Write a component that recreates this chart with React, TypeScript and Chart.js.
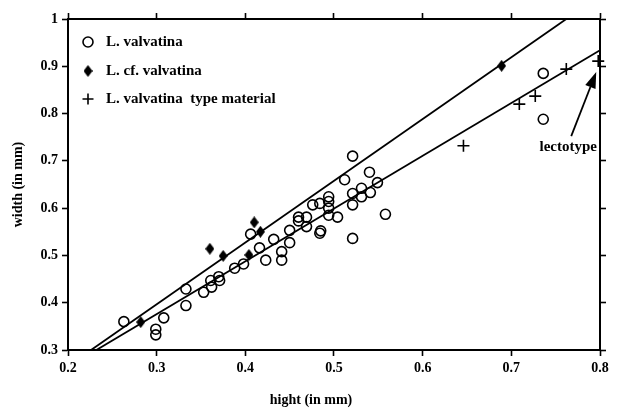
import React, { useEffect, useRef } from 'react';
import { Chart, registerables } from 'chart.js';

Chart.register(...registerables);

// ---- data (height = x, width = y, in mm) ----
const valvatinaHeight = [
  0.263, 0.308, 0.299, 0.299, 0.333, 0.333, 0.353, 0.361, 0.362, 0.370, 0.371, 0.388, 0.398,
  0.406, 0.416, 0.423, 0.432, 0.441, 0.441, 0.450, 0.450, 0.460, 0.460, 0.469, 0.469, 0.476,
  0.484, 0.484, 0.485, 0.494, 0.494, 0.494, 0.494, 0.504, 0.512, 0.521, 0.521, 0.521, 0.521,
  0.531, 0.531, 0.540, 0.541, 0.549, 0.558, 0.736, 0.736,
];
const valvatinaWidth = [
  0.360, 0.368, 0.344, 0.332, 0.429, 0.394, 0.422, 0.447, 0.433, 0.455, 0.447, 0.473, 0.482,
  0.545, 0.516, 0.490, 0.534, 0.508, 0.490, 0.553, 0.527, 0.581, 0.573, 0.581, 0.561, 0.607,
  0.610, 0.547, 0.552, 0.624, 0.614, 0.600, 0.585, 0.581, 0.660, 0.710, 0.631, 0.607, 0.536,
  0.642, 0.624, 0.676, 0.633, 0.654, 0.587, 0.885, 0.788,
];
const cfHeight = [0.282, 0.360, 0.375, 0.404, 0.410, 0.417, 0.689];
const cfWidth = [0.359, 0.514, 0.499, 0.501, 0.570, 0.550, 0.901];
const typeHeight = [0.646, 0.709, 0.727, 0.762, 0.798];
const typeWidth = [0.732, 0.820, 0.837, 0.894, 0.911];

const upperLineHeight = [0.226, 0.762];
const upperLineWidth = [0.3, 1.0];
const lowerLineHeight = [0.232, 0.8];
const lowerLineWidth = [0.3, 0.934];

const legendLabels = ['L. valvatina', 'L. cf. valvatina', 'L. valvatina  type material'];
const xTitle = 'hight (in mm)';
const yTitle = 'width (in mm)';
const lectotypeLabel = 'lectotype';

const X_MIN = 0.2, X_MAX = 0.8, Y_MIN = 0.3, Y_MAX = 1.0, STEP = 0.1;

const FONT_FAMILY = "'Liberation Serif', 'Times New Roman', serif";

const toPoints = (xs: number[], ys: number[]) => xs.map((x, i) => ({ x, y: ys[i] }));

function makeDiamond(): HTMLCanvasElement {
  const c = document.createElement('canvas');
  c.width = 9;
  c.height = 12;
  const ctx = c.getContext('2d')!;
  ctx.fillStyle = '#000';
  ctx.beginPath();
  ctx.moveTo(4.5, 0);
  ctx.lineTo(9, 6);
  ctx.lineTo(4.5, 12);
  ctx.lineTo(0, 6);
  ctx.closePath();
  ctx.fill();
  return c;
}

const fmt = (v: number) => String(Number(Number(v).toFixed(1)));

export default function App() {
  const ref = useRef<HTMLCanvasElement | null>(null);

  useEffect(() => {
    const canvas = ref.current;
    if (!canvas) return;
    const diamond = makeDiamond();

    const overlay = {
      id: 'overlay',
      afterDraw(chart: any) {
        const ctx = chart.ctx;
        const { left, top, right, bottom } = chart.chartArea;
        const xs = chart.scales.x;
        const ys = chart.scales.y;
        ctx.save();
        // legend
        const mx = left + 20;
        const tx = left + 38;
        const rows = [top + 23, top + 52, top + 80];
        ctx.strokeStyle = '#000';
        ctx.fillStyle = '#000';
        ctx.lineWidth = 1.6;
        ctx.beginPath();
        ctx.arc(mx, rows[0], 5, 0, Math.PI * 2);
        ctx.stroke();
        ctx.drawImage(diamond, mx - 4.5, rows[1] - 6);
        ctx.beginPath();
        ctx.moveTo(mx - 5.5, rows[2]);
        ctx.lineTo(mx + 5.5, rows[2]);
        ctx.moveTo(mx, rows[2] - 5.5);
        ctx.lineTo(mx, rows[2] + 5.5);
        ctx.stroke();
        ctx.font = `bold 15px ${FONT_FAMILY}`;
        ctx.textBaseline = 'middle';
        ctx.textAlign = 'left';
        legendLabels.forEach((l, i) => ctx.fillText(l, tx, rows[i]));

        // lectotype arrow
        const li = typeHeight.length - 1;
        const px = xs.getPixelForValue(typeHeight[li]);
        const py = ys.getPixelForValue(typeWidth[li]);
        const tipX = px - 2, tipY = py + 11;
        const tailX = px - 27, tailY = py + 75;
        const dx = tipX - tailX, dy = tipY - tailY;
        const len = Math.hypot(dx, dy);
        const ux = dx / len, uy = dy / len;
        const headLen = 16, headW = 5.5;
        const bx = tipX - ux * headLen, by = tipY - uy * headLen;
        ctx.lineWidth = 1.8;
        ctx.beginPath();
        ctx.moveTo(tailX, tailY);
        ctx.lineTo(bx, by);
        ctx.stroke();
        ctx.beginPath();
        ctx.moveTo(tipX, tipY);
        ctx.lineTo(bx - uy * headW, by + ux * headW);
        ctx.lineTo(bx + uy * headW, by - ux * headW);
        ctx.closePath();
        ctx.fill();
        ctx.font = `bold 15px ${FONT_FAMILY}`;
        ctx.textAlign = 'center';
        ctx.fillText(lectotypeLabel, px - 30, py + 86);

        // axis titles
        ctx.font = `bold 14px ${FONT_FAMILY}`;
        ctx.textAlign = 'center';
        ctx.fillText(xTitle, (left + right) / 2 - 23, bottom + 50);
        ctx.translate(18, (top + bottom) / 2);
        ctx.rotate(-Math.PI / 2);
        ctx.fillText(yTitle, 0, 0);
        ctx.restore();
      },
    };

    const gridCommon = {
      drawOnChartArea: false,
      drawTicks: true,
      tickLength: 6,
      tickColor: '#000',
      tickWidth: 1.6,
    };
    const border = { color: '#000', width: 2 };
    const tickFont = { family: FONT_FAMILY, size: 14, weight: 'bold' as const };

    const chart = new Chart(canvas, {
      type: 'scatter',
      data: {
        datasets: [
          {
            label: 'upper fit',
            data: toPoints(upperLineHeight, upperLineWidth),
            showLine: true,
            borderColor: '#000',
            borderWidth: 1.8,
            pointRadius: 0,
          },
          {
            label: 'lower fit',
            data: toPoints(lowerLineHeight, lowerLineWidth),
            showLine: true,
            borderColor: '#000',
            borderWidth: 1.8,
            pointRadius: 0,
          },
          {
            label: legendLabels[0],
            data: toPoints(valvatinaHeight, valvatinaWidth),
            pointStyle: 'circle',
            pointRadius: 5,
            borderColor: '#000',
            backgroundColor: 'rgba(0,0,0,0)',
            borderWidth: 1.6,
            clip: false,
          },
          {
            label: legendLabels[1],
            data: toPoints(cfHeight, cfWidth),
            pointStyle: diamond,
            pointRadius: 5,
            borderColor: '#000',
            backgroundColor: '#000',
            clip: false,
          },
          {
            label: legendLabels[2],
            data: toPoints(typeHeight, typeWidth),
            pointStyle: 'cross',
            pointRadius: 6,
            borderColor: '#000',
            borderWidth: 1.6,
            clip: false,
          },
        ],
      } as any,
      options: {
        responsive: false,
        animation: false,
        events: [],
        layout: { padding: 0 },
        plugins: {
          legend: { display: false },
          tooltip: { enabled: false },
        },
        scales: {
          x: {
            type: 'linear',
            position: 'bottom',
            min: X_MIN,
            max: X_MAX,
            ticks: { stepSize: STEP, font: tickFont, color: '#000', padding: 4, callback: (v: any) => fmt(v) },
            grid: gridCommon,
            border,
            afterFit: (s: any) => { s.height = 60; },
          },
          x2: {
            type: 'linear',
            position: 'top',
            min: X_MIN,
            max: X_MAX,
            ticks: { stepSize: STEP, display: false },
            grid: gridCommon,
            border,
            afterFit: (s: any) => { s.height = 19; },
          },
          y: {
            type: 'linear',
            position: 'left',
            min: Y_MIN,
            max: Y_MAX,
            ticks: { stepSize: STEP, font: tickFont, color: '#000', padding: 4, callback: (v: any) => fmt(v) },
            grid: gridCommon,
            border,
            afterFit: (s: any) => { s.width = 68; },
          },
          y2: {
            type: 'linear',
            position: 'right',
            min: Y_MIN,
            max: Y_MAX,
            ticks: { stepSize: STEP, display: false },
            grid: gridCommon,
            border,
            afterFit: (s: any) => { s.width = 17; },
          },
        },
      } as any,
      plugins: [overlay],
    });
    return () => chart.destroy();
  }, []);

  return (
    <div style={{ position: 'absolute', left: 0, top: 0, width: 617, height: 410, background: '#fff' }}>
      <canvas ref={ref} width={617} height={410} style={{ width: 617, height: 410 }} />
    </div>
  );
}
